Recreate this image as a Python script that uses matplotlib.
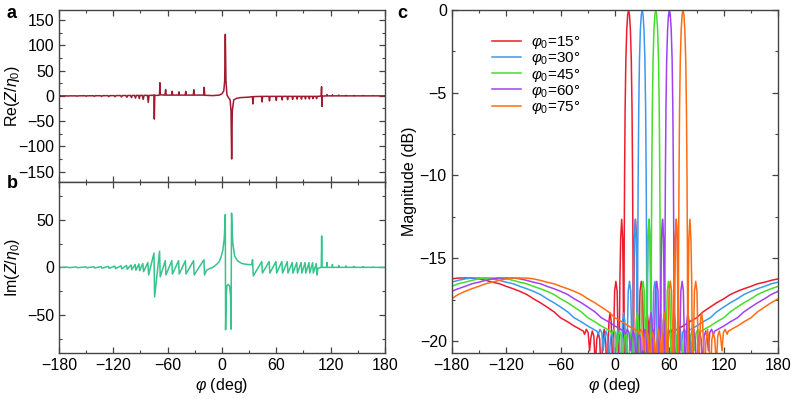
import numpy as np
import matplotlib.pyplot as plt
from matplotlib.ticker import MultipleLocator

plt.rcParams['font.family'] = ['Liberation Sans', 'DejaVu Sans']
plt.rcParams['mathtext.fontset'] = 'custom'
plt.rcParams['mathtext.rm'] = 'Liberation Sans'
plt.rcParams['mathtext.it'] = 'Liberation Sans:italic'
plt.rcParams['axes.unicode_minus'] = True

# --- panel a: Re(Z/eta0) vertices ---
phi_re = [-180, -171, -170, -169, -161, -160, -159, -151, -150, -149, -142, -141, -140,
          -134, -133, -132, -126, -125, -124, -119, -118, -117, -112, -111, -110,
          -106, -105, -104, -101, -100, -99, -96.5, -95.5, -94.5, -92.2, -91.3, -90.4,
          -88, -87, -86, -82.3, -81.4, -80.5, -76, -75.2, -74.7, -74.2,
          -70, -69, -68.5, -68, -63, -62.2, -61.6, -55.7, -55, -54.4, -48.2, -47.5, -46.9,
          -40.7, -40, -39.4, -31.7, -31, -30.4, -20.3, -19.6, -19.0,
          -10, -3, 0, 2, 3.0, 3.7, 4.4, 5.5, 7, 9, 10.0, 10.7, 11.4, 13, 16, 20, 25, 30,
          33.6, 34.2, 34.8, 43.7, 44.3, 44.9, 51.9, 52.5, 53.1, 59.4, 60, 60.6,
          65.9, 66.5, 67.1, 71.9, 72.5, 73.1, 77.4, 78, 78.6, 82.4, 83, 83.6,
          87.2, 87.8, 88.4, 91.6, 92.2, 92.8, 95.9, 96.5, 97.1, 99.9, 100.5, 101.1,
          103.9, 104.5, 105.1, 109.5, 110.0, 110.4, 110.9,
          115.5, 116, 116.5, 121.5, 122, 122.5, 128.5, 129, 129.5, 136.5, 137, 137.5,
          145.5, 146, 146.5, 155.5, 156, 156.5, 166.5, 167, 167.5, 180]
re_vals = [0, 0, -0.6, 0, 0, -0.7, 0, 0.2, -0.8, 0.1, 0.2, -1, 0.2,
           0.3, -1.2, 0.3, 0.4, -1.5, 0.4, 0.5, -1.8, 0.5, 0.6, -2.2, 0.6,
           0.7, -2.8, 0.7, 0.8, -3.5, 0.8, 0.9, -4.5, 0.9, 1, -5.5, 1,
           1, -7, 1, 1, -13, 1, 1, 2, -46, 1,
           1, 2, 26, 2, 1.5, 12.5, 1.5, 1.5, 9, 1.5, 1.5, 8, 1.5,
           1.5, 9, 1.5, 1.5, 12, 1.5, 1.5, 17, 1.2,
           0.5, 1.5, 4, 10, 30, 122, 30, 2, -3, -8, -30, -125, -30, -8, -5, -3.5, -3, -2.5,
           -1.5, -16, -1.5, -1, -12, -1, -1, -10, -1, -1, -9, -1,
           -1, -8, -1, -1, -7.5, -1, -1, -7, -1, -1, -6.5, -1,
           -1, -6.5, -1, -1, -6, -1, -1, -6, -1, -1, -5.5, -1,
           -1, -5.5, -1, -0.5, 18, -21, -0.5,
           0, 2.5, 0, 0, 2, 0, 0, 1.5, 0, 0, 1, 0,
           0, 0.8, 0, 0, 0.6, 0, 0, 0.5, 0, 0]

# --- panel b: Im(Z/eta0) vertices ---
phi_im = [-180, -170.4, -169.6, -160.4, -159.6, -150.4, -149.6, -141.4, -140.6,
          -133.4, -132.6, -125.4, -124.6, -118.4, -117.6, -111.4, -110.6,
          -105.4, -104.6, -100.4, -99.6, -95.9, -95.1, -91.7, -90.9, -87.4, -86.6,
          -81.8, -81.0, -75.1, -74.4, -68.9, -68.2, -62.6, -61.9, -55.4, -54.7,
          -47.9, -47.2, -40.4, -39.7, -31.4, -30.7, -19.9, -19.3,
          -17, -14, -10, -6, -3, -1, 1, 2.5, 3.4, 3.7, 4.0, 4.6, 5.5, 7, 8.5, 9.5, 10.0,
          10.6, 11.2, 12, 14, 17, 22, 28, 32.8,
          33.8, 34.6, 43.9, 44.7, 52.1, 52.9, 59.6, 60.4, 66.1, 66.9, 72.1, 72.9,
          77.6, 78.4, 82.6, 83.4, 87.4, 88.2, 91.8, 92.6, 96.1, 96.9, 100.1, 100.9,
          104.1, 104.9, 106, 109.7, 110.1, 110.5,
          115.7, 116, 116.3, 121.7, 122, 122.3, 128.7, 129, 129.3, 136.7, 137, 137.3,
          145.7, 146, 146.3, 155.7, 156, 156.3, 166.7, 167, 167.3, 180]
im_vals = [0, 0.3, -0.3, 0.4, -0.4, 0.5, -0.5, 0.6, -0.6,
           0.8, -0.8, 1, -1, 1.3, -1.3, 1.6, -1.6,
           2, -2, 2.5, -2.5, 3, -3, 3.5, -3.5, 4, -4.5,
           5, -8, 15, -31, 17, -10, 7, -8, 7, -7,
           7, -7, 7, -7, 7, -8, 8, -8,
           -3, -1.5, 0, 3, 6, 11, 18, 30, 48, 55.5, -65.6, -30, -19, -18, -20, -30, -65,
           57, 40, 25, 12, 7, 4, 3, 2.8,
           8, -9, 6, -6, 6, -6, 6, -6, 6, -6, 6, -6,
           5, -6, 5, -6, 5, -6, 5, -6, 5, -6, 5, -6,
           4, -8, -1, 0, 33, 0,
           0, 5, 0, 0, 3, 0, 0, 2, 0, 0, 1.5, 0,
           0, 1, 0, 0, 0.8, 0, 0, 0.5, 0, 0]

# --- panel c: magnitude profile vs. |phi - phi0|, same shape for every steering angle ---
phi0_list = [15, 30, 45, 60, 75]
c_colors = ['#ee1c2e', '#3d98ee', '#46dd2a', '#a142ee', '#ff6c12']
u_nodes = [0.0, 1.0, 2.0, 3.0, 3.8, 4.4, 4.9, 5.3, 5.9, 6.5, 7.6, 8.7, 9.6, 10.7,
           11.7, 12.6, 14.0, 15.4, 16.3, 17.2, 18.2, 19.2, 20.4, 21.6, 22.7, 23.7,
           25.0, 27.0, 28.8, 30.2, 31.8, 33.4, 35.0, 36.7, 38.3, 40.0, 41.5, 43.0,
           44.5, 46.5, 48.5, 50.0, 52.0, 55, 60, 67, 75, 82, 90, 97, 105, 112, 120,
           127, 135, 142, 150, 158, 165, 172, 180]
db_nodes = [0.0, -0.3, -1.2, -3.0, -6.0, -10.0, -15.0, -24.0, -16.5, -13.8, -12.65, -13.8, -16.5, -24.0,
            -19.5, -17.0, -16.4, -17.0, -19.5, -24.0, -20.5, -18.8, -18.3, -18.8, -20.5, -24.0,
            -20.2, -19.3, -20.2, -22.5, -19.9, -19.5, -19.9, -21.5, -19.7, -19.4, -19.8, -20.6,
            -19.5, -19.3, -19.6, -19.4, -19.35, -19.25, -19.1, -18.85, -18.6, -18.25, -17.95, -17.7, -17.45, -17.2, -17.0,
            -16.85, -16.7, -16.55, -16.45, -16.33, -16.25, -16.2, -16.2]

fig = plt.figure(figsize=(7.97, 3.99), dpi=100)
ax_a = fig.add_axes([0.0740, 0.5446, 0.409, 0.4303])
ax_b = fig.add_axes([0.0740, 0.1153, 0.409, 0.4293])
ax_c = fig.add_axes([0.5667, 0.1145, 0.4098, 0.8604])

fs = 11.5

ax_a.plot(phi_re, re_vals, color='#a11a30', lw=1.1)
ax_b.plot(phi_im, im_vals, color='#35c48c', lw=1.1)

u = np.array(u_nodes)
d = np.array(db_nodes)
uu = np.concatenate([-u[::-1], u[1:]])
dd = np.concatenate([d[::-1], d[1:]])
for p0, col in zip(phi0_list, c_colors):
    ax_c.plot(p0 + uu, dd, color=col, lw=1.1, label=r'$\varphi_0$=%d°' % p0)
    ax_c.plot(p0 + uu - 360, dd, color=col, lw=1.1)

for ax in (ax_a, ax_b, ax_c):
    ax.set_xlim(-180, 180)
    ax.xaxis.set_major_locator(MultipleLocator(60))
    ax.xaxis.set_minor_locator(MultipleLocator(30))
    ax.tick_params(which='both', direction='in', top=True, right=True,
                   labelsize=fs, colors='#444444', labelcolor='black')
    ax.tick_params(which='major', length=4.5, width=0.9)
    ax.tick_params(which='minor', length=2.5, width=0.8)
    for s in ax.spines.values():
        s.set_color('#444444')
        s.set_linewidth(1.0)

ax_a.set_ylim(-170, 170)
ax_a.yaxis.set_major_locator(MultipleLocator(50))
ax_a.yaxis.set_minor_locator(MultipleLocator(25))
ax_a.tick_params(labelbottom=False)
ax_a.set_ylabel(r'Re($Z/\eta_0$)', fontsize=fs)
ax_a.yaxis.set_label_coords(-0.112, 0.5)

ax_b.set_ylim(-90, 90)
ax_b.yaxis.set_major_locator(MultipleLocator(50))
ax_b.yaxis.set_minor_locator(MultipleLocator(25))
ax_b.set_ylabel(r'Im($Z/\eta_0$)', fontsize=fs)
ax_b.yaxis.set_label_coords(-0.112, 0.5)
ax_b.set_xlabel(r'$\varphi$ (deg)', fontsize=fs, labelpad=2)

ax_c.set_ylim(-20.75, 0)
ax_c.yaxis.set_major_locator(MultipleLocator(5))
ax_c.yaxis.set_minor_locator(MultipleLocator(2.5))
ax_c.set_ylabel('Magnitude (dB)', fontsize=fs, labelpad=2)
ax_c.set_xlabel(r'$\varphi$ (deg)', fontsize=fs, labelpad=2)
ax_c.legend(loc='upper left', bbox_to_anchor=(0.08, 0.97), frameon=False,
            fontsize=fs - 0.5, handlelength=1.9, handletextpad=0.7, labelspacing=-0.05)

fig.text(0.008, 0.965, 'a', fontsize=13, fontweight='bold', va='center')
fig.text(0.008, 0.540, 'b', fontsize=13, fontweight='bold', va='center')
fig.text(0.498, 0.965, 'c', fontsize=13, fontweight='bold', va='center')

fig.savefig('out.png', dpi=100)
